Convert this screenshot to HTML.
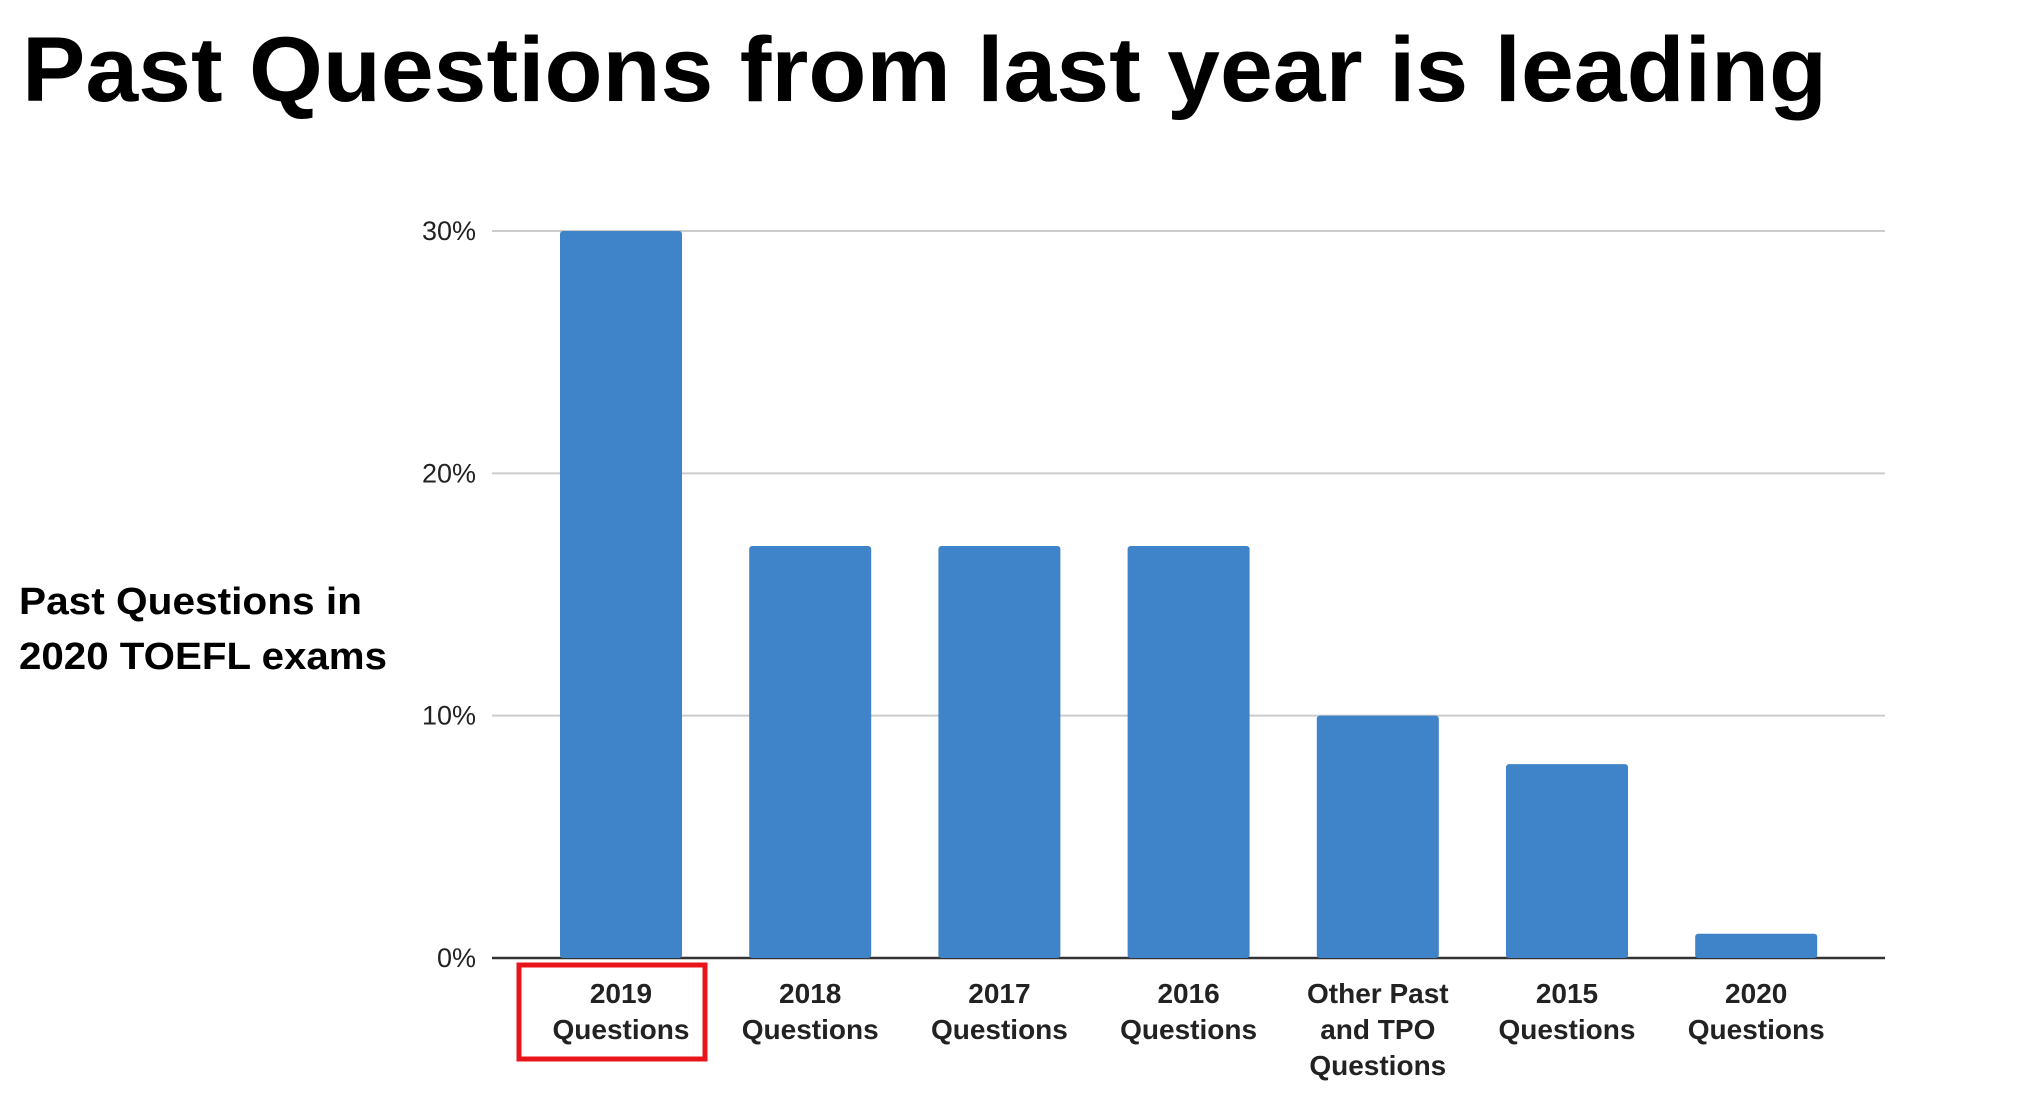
<!DOCTYPE html>
<html><head><meta charset="utf-8"><style>
body{margin:0;background:#fff;width:2024px;height:1108px;overflow:hidden}
svg{display:block}
</style></head><body>
<svg id="c" width="2024" height="1108" xmlns="http://www.w3.org/2000/svg">
<text x="22" y="101" font-family="Liberation Sans, sans-serif" font-weight="bold" font-size="92" textLength="1805" lengthAdjust="spacingAndGlyphs" fill="#000">Past Questions from last year is leading</text>
<text x="19" y="614" font-family="Liberation Sans, sans-serif" font-weight="bold" font-size="38" textLength="343" lengthAdjust="spacingAndGlyphs">Past Questions in</text>
<text x="19" y="669" font-family="Liberation Sans, sans-serif" font-weight="bold" font-size="38" textLength="368" lengthAdjust="spacingAndGlyphs">2020 TOEFL exams</text>
<g id="grid"></g><g id="bars"></g><g id="xl"></g>
<rect x="519" y="965" width="186" height="94" fill="none" stroke="#e8161b" stroke-width="5"/>
</svg>
<script>
const categories=[["2019","Questions"],["2018","Questions"],["2017","Questions"],["2016","Questions"],["Other Past","and TPO","Questions"],["2015","Questions"],["2020","Questions"]];
const values=[30,17,17,17,10,8,1];
const ticks=[0,10,20,30];
const tickLabels=["0%","10%","20%","30%"];
const NS="http://www.w3.org/2000/svg";
const y=v=>958-v*(958-231)/30;
const x=i=>621+i*189.2;
function mk(t,a,p){const e=document.createElementNS(NS,t);for(const k in a)e.setAttribute(k,a[k]);p.appendChild(e);return e;}
const g=document.getElementById('grid'),b=document.getElementById('bars'),xl=document.getElementById('xl');
ticks.forEach((t,i)=>{
 const l=mk('line',{x1:492,x2:1885,y1:y(t),y2:y(t),stroke:t===0?'#333':'#ccc','stroke-width':t===0?2.5:2},g);
 
 
 const tx=mk('text',{x:476,y:y(t)+9,'text-anchor':'end','font-family':'Liberation Sans, sans-serif','font-size':27,fill:'#222'},g);
 tx.textContent=tickLabels[i];
 
 
});
values.forEach((v,i)=>{
 const r=mk('rect',{x:x(i)-61,y:y(v),width:122,height:y(0)-y(v),fill:'#3f84c8',rx:3},b);
 
 
 categories[i].forEach((s,j)=>{
  const t=mk('text',{x:x(i),y:1003+j*36,'text-anchor':'middle','font-family':'Liberation Sans, sans-serif','font-weight':'bold','font-size':28,fill:'#222'},xl);
  t.textContent=s;
  
  
 });
});
</script>
</body></html>
